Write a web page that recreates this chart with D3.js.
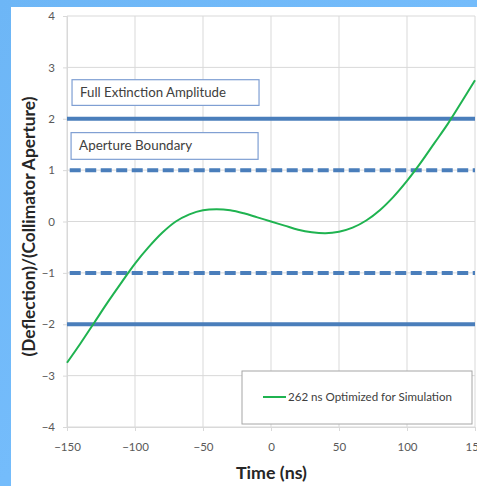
<!DOCTYPE html>
<html>
<head>
<meta charset="utf-8">
<script src="https://cdn.jsdelivr.net/npm/d3@7/dist/d3.min.js"></script>
<style>
  html, body { margin: 0; padding: 0; }
  body { width: 477px; height: 486px; overflow: hidden; }
  text { font-family: Lato, "Open Sans", sans-serif; }
</style>
</head>
<body>
<svg id="chart" width="477" height="486"></svg>
<script>
// Deflection trace (normalised to collimator aperture) versus time
const timeNs = [-150, -140, -130, -120, -110, -100, -90, -80, -70, -60, -50, -40, -30, -20, -10,
                0, 10, 20, 30, 40, 50, 60, 70, 80, 90, 100, 110, 120, 130, 140, 150];
const deflection = [-2.75, -2.37, -1.97, -1.57, -1.19, -0.82, -0.50, -0.22, 0.00, 0.14, 0.22, 0.24, 0.22, 0.16, 0.08,
                    0.00, -0.08, -0.16, -0.21, -0.23, -0.20, -0.12, 0.02, 0.22, 0.48, 0.79, 1.14, 1.52, 1.90, 2.32, 2.75];
const seriesName = "262 ns Optimized for Simulation";

const xTicks = [-150, -100, -50, 0, 50, 100, 150];
const yTicks = [-4, -3, -2, -1, 0, 1, 2, 3, 4];

// Horizontal reference levels
const extinctionLevels = [2, -2];   // solid
const apertureLevels = [1, -1];     // dashed

const svg = d3.select("#chart");

// Scale a text's font size so that it spans the given width
function fitWidth(sel, width) {
  sel.each(function () {
    const fs = parseFloat(getComputedStyle(this).fontSize);
    const w = this.getComputedTextLength();
    if (w > 0) d3.select(this).style("font-size", (fs * width / w).toFixed(2) + "px");
  });
}

// Backdrop
const defs = svg.append("defs");
const bg = defs.append("linearGradient").attr("id", "bg").attr("x1", 0).attr("y1", 0).attr("x2", 1).attr("y2", 1);
bg.append("stop").attr("offset", "0%").attr("stop-color", "#6db6f6");
bg.append("stop").attr("offset", "50%").attr("stop-color", "#74bcfb");
bg.append("stop").attr("offset", "100%").attr("stop-color", "#6cb4f5");
svg.append("rect").attr("width", 477).attr("height", 486).attr("fill", "url(#bg)");
svg.append("rect").attr("x", 11).attr("y", 7).attr("width", 470).attr("height", 482).attr("fill", "#ffffff");

const x = d3.scaleLinear().domain([-150, 150]).range([67, 475]);
const y = d3.scaleLinear().domain([-4, 4]).range([427, 16]);

// Gridlines
svg.append("g").selectAll("line").data(yTicks).join("line")
  .attr("x1", x(-150)).attr("x2", x(150))
  .attr("y1", d => y(d)).attr("y2", d => y(d))
  .attr("stroke", "#d9d9d9").attr("stroke-width", 1);
svg.append("g").selectAll("line").data(xTicks).join("line")
  .attr("x1", d => x(d)).attr("x2", d => x(d))
  .attr("y1", y(4)).attr("y2", y(-4))
  .attr("stroke", "#d9d9d9").attr("stroke-width", 1);

// Axes
const xAxis = svg.append("g").attr("transform", `translate(0,${y(-4)})`)
  .call(d3.axisBottom(x).tickValues(xTicks).tickSize(4).tickPadding(12).tickFormat(d3.format("d")));
const yAxis = svg.append("g").attr("transform", `translate(${x(-150)},0)`)
  .call(d3.axisLeft(y).tickValues(yTicks).tickSize(4).tickPadding(8).tickFormat(d3.format("d")));
[xAxis, yAxis].forEach(g => {
  g.select(".domain").attr("stroke", "#d9d9d9");
  g.selectAll(".tick line").attr("stroke", "#d9d9d9");
  g.selectAll(".tick text").attr("fill", "#595959").style("font-size", "11.5px")
    .style("font-family", "Lato, 'Open Sans', sans-serif");
});

// Reference levels
svg.append("g").selectAll("line").data(extinctionLevels).join("line")
  .attr("x1", x(-150)).attr("x2", x(150))
  .attr("y1", d => y(d)).attr("y2", d => y(d))
  .attr("stroke", "#4a7ebb").attr("stroke-width", 4);
svg.append("g").selectAll("line").data(apertureLevels).join("line")
  .attr("x1", x(-148)).attr("x2", x(150))
  .attr("y1", d => y(d)).attr("y2", d => y(d))
  .attr("stroke", "#4a7ebb").attr("stroke-width", 4)
  .attr("stroke-dasharray", "11,4.5");

// Annotation boxes
const notes = [
  { text: "Full Extinction Amplitude", t0: -146.3, t1: -8.8, v0: 2.76, v1: 2.26, w: 146 },
  { text: "Aperture Boundary", t0: -147, t1: -9.5, v0: 1.73, v1: 1.21, w: 113 }
];
const ng = svg.append("g").selectAll("g").data(notes).join("g");
ng.append("rect")
  .attr("x", d => x(d.t0)).attr("y", d => y(d.v0))
  .attr("width", d => x(d.t1) - x(d.t0)).attr("height", d => y(d.v1) - y(d.v0))
  .attr("fill", "#ffffff").attr("stroke", "#7f9fd3").attr("stroke-width", 1.2);
ng.append("text")
  .attr("x", d => x(d.t0) + 8).attr("y", d => (y(d.v0) + y(d.v1)) / 2 + 4.5)
  .attr("fill", "#404040").style("font-size", "12px")
  .text(d => d.text)
  .each(function (d) { fitWidth(d3.select(this), d.w); });

// Deflection curve
const pts = timeNs.map((t, i) => [t, deflection[i]]);
svg.append("path").datum(pts)
  .attr("fill", "none").attr("stroke", "#1fb350").attr("stroke-width", 2)
  .attr("d", d3.line().x(d => x(d[0])).y(d => y(d[1])).curve(d3.curveCatmullRom.alpha(0.5)));

// Legend
const lg = svg.append("g").attr("transform", "translate(242,371)");
lg.append("rect").attr("width", 230).attr("height", 53)
  .attr("fill", "#ffffff").attr("stroke", "#a6a6a6").attr("stroke-width", 1);
lg.append("line").attr("x1", 21).attr("x2", 44).attr("y1", 26).attr("y2", 26)
  .attr("stroke", "#1fb350").attr("stroke-width", 2);
lg.append("text").attr("x", 46).attr("y", 30)
  .attr("fill", "#404040").style("font-size", "11px").text(seriesName)
  .call(fitWidth, 164);

// Axis titles
svg.append("text").attr("x", x(0) + 0.5).attr("y", 479).attr("text-anchor", "middle")
  .attr("fill", "#262626").style("font-size", "15px").style("font-weight", "bold")
  .text("Time (ns)")
  .call(fitWidth, 71);
svg.append("text").attr("transform", `translate(35,${(y(0) + 5).toFixed(1)}) rotate(-90)`).attr("text-anchor", "middle")
  .attr("fill", "#262626").style("font-size", "14px").style("font-weight", "bold")
  .text("(Deflection)/(Collimator Aperture)")
  .call(fitWidth, 260);
</script>
</body>
</html>
